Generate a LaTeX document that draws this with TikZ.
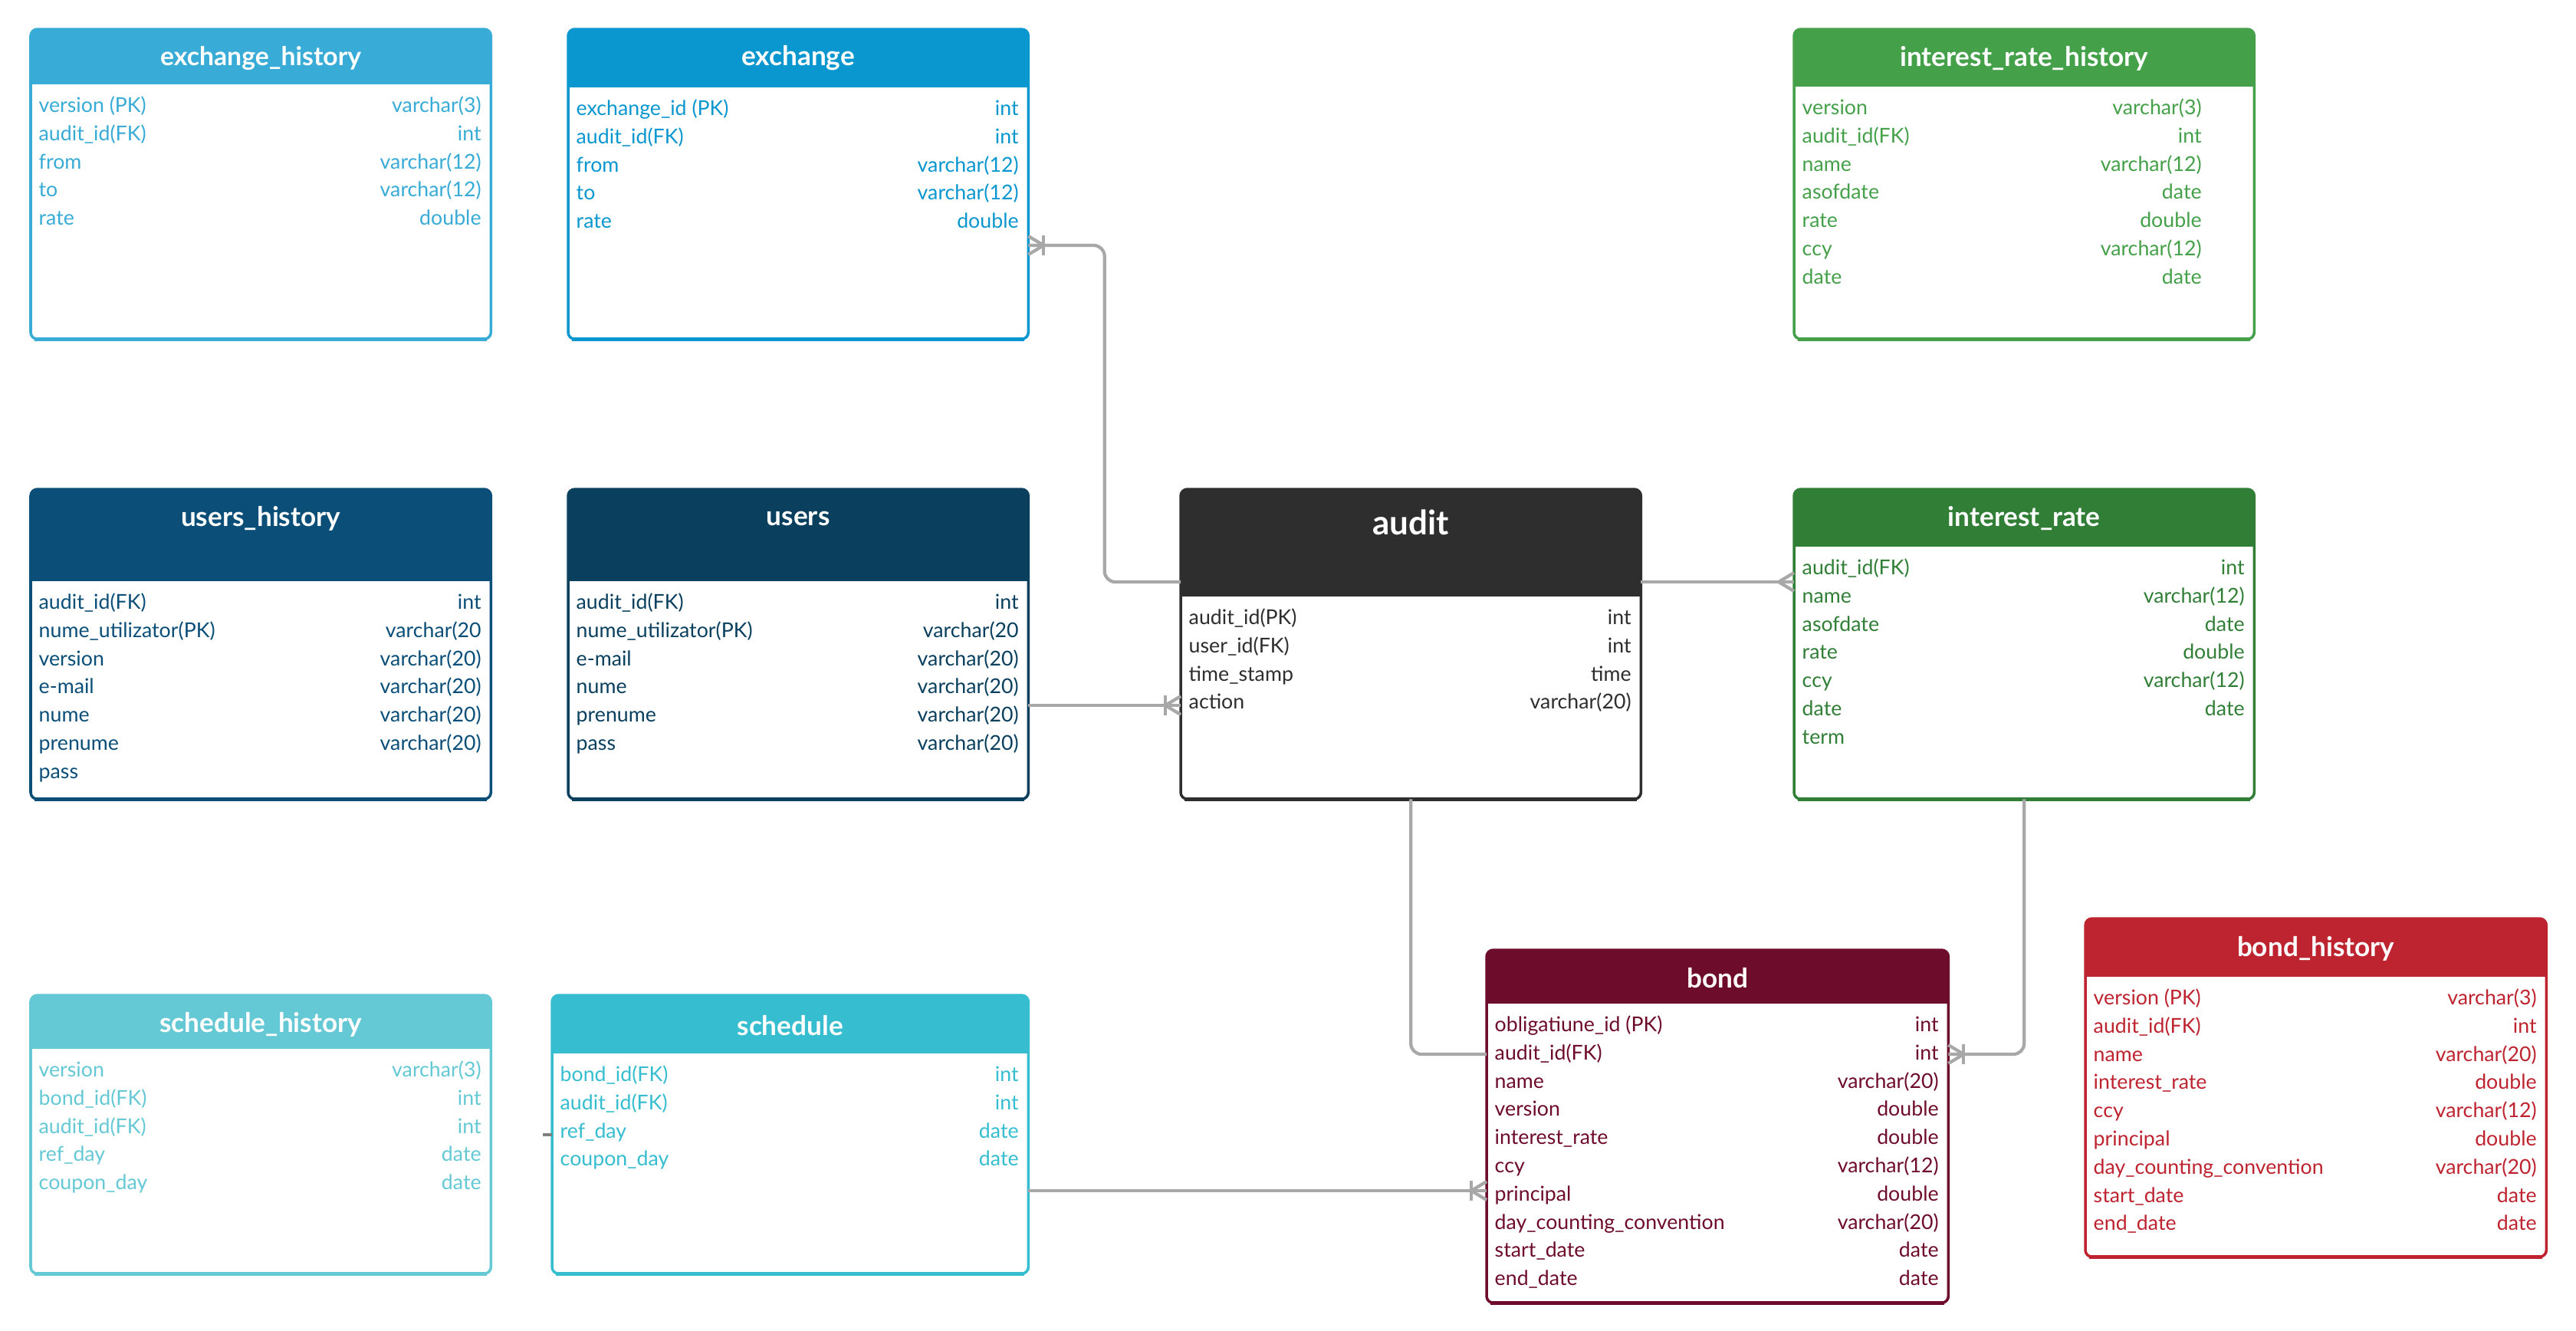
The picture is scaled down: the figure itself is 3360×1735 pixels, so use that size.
\documentclass[tikz,border=0pt]{standalone}
\usepackage{fontspec}
\setmainfont{Lato}
\usepackage{tikz}
\usetikzlibrary{calc}

\definecolor{exhistc}{HTML}{38ABD6}
\definecolor{exchc}{HTML}{0A97CF}
\definecolor{irhistc}{HTML}{45A04A}
\definecolor{ushistc}{HTML}{0B4F79}
\definecolor{usersc}{HTML}{0A405E}
\definecolor{auditc}{HTML}{2E2E2E}
\definecolor{iratec}{HTML}{317F37}
\definecolor{schhistc}{HTML}{64C9D5}
\definecolor{schedc}{HTML}{36BDCF}
\definecolor{bondc}{HTML}{6E0D2B}
\definecolor{bondhistc}{HTML}{BE2430}
\definecolor{relc}{HTML}{A8A8A8}

% one row per field: name left, type right
\newcommand{\tblrows}[5]{%
  \foreach \fn/\ty [count=\i from 0] in {#5}{
    \node[fld, text=#2, anchor=west] (#1-f\i) at ($(#1.north west)+(10,#3+36.8*\i)$) {\fn};
    \node[fld, text=#2, anchor=east] (#1-t\i) at ($(#1.north east)+(-#4,#3+36.8*\i)$) {\ty};
  }
  \draw[#2, line width=1.5pt] ($(#1.south west)+(5,0)$) -- ($(#1.south east)+(-5,0)$);}

\begin{document}
\begin{tikzpicture}[
  x=0.01cm, y=-0.01cm,
  tbl/.style 2 args={draw=#1, fill=#1, line width=1pt, rounded corners=2.5pt,
              inner sep=0pt, outer sep=0pt, anchor=north west,
              path picture={\fill[white, sharp corners]
                ($(path picture bounding box.north west)+(0,#2)$)
                rectangle (path picture bounding box.south east);}},
  ttl/.style={text=white, font=\bfseries\fontsize{10}{12}\selectfont},
  fld/.style={inner sep=0pt, text height=5.8pt, text depth=1.6pt,
              font=\fontsize{7.6}{9}\selectfont},
  rel/.style={draw=relc, line width=1.2pt},
  crow/.pic={\draw[rel, sharp corners] (0,-12) -- (20,0) -- (0,12);},
  bar/.pic={\draw[rel] (20,-13) -- (20,13);},
]
\useasboundingbox (0,0) rectangle (3360,1735);

% top row
\node[tbl={exhistc}{72}, minimum width=6cm, minimum height=4.04cm] (exhist) at (40,38) {};
\node[ttl, font=\bfseries\fontsize{9.6}{12}\selectfont] (exhist-t) at ($(exhist.north)+(0,38)$) {exchange\_history};
\tblrows{exhist}{exhistc}{101}{12}{version (PK)/varchar(3), audit\_id(FK)/int,
  from/varchar(12), to/varchar(12), rate/double}

\node[tbl={exchc}{76}, minimum width=6cm, minimum height=4.04cm] (exchange) at (741,38) {};
\node[ttl] (exchange-t) at ($(exchange.north)+(0,38)$) {exchange};
\tblrows{exchange}{exchc}{105}{12}{exchange\_id (PK)/int, audit\_id(FK)/int,
  from/varchar(12), to/varchar(12), rate/double}

\node[tbl={irhistc}{75}, minimum width=6cm, minimum height=4.04cm] (irhist) at (2340,38) {};
\node[ttl] (irhist-t) at ($(irhist.north)+(0,38)$) {interest\_rate\_history};
\tblrows{irhist}{irhistc}{104}{68}{version/varchar(3), audit\_id(FK)/int,
  name/varchar(12), asofdate/date, rate/double, ccy/varchar(12), date/date}

% middle row
\node[tbl={ushistc}{120}, minimum width=6cm, minimum height=4.04cm] (ushist) at (40,638) {};
\node[ttl] (ushist-t) at ($(ushist.north)+(0,38)$) {users\_history};
\tblrows{ushist}{ushistc}{149}{12}{audit\_id(FK)/int, nume\_utilizator(PK)/varchar(20,
  version/varchar(20), e-mail/varchar(20), nume/varchar(20),
  prenume/varchar(20), pass/{}}

\node[tbl={usersc}{120}, minimum width=6cm, minimum height=4.04cm] (users) at (741,638) {};
\node[ttl] (users-t) at ($(users.north)+(0,38)$) {users};
\tblrows{users}{usersc}{149}{12}{audit\_id(FK)/int, nume\_utilizator(PK)/varchar(20,
  e-mail/varchar(20), nume/varchar(20), prenume/varchar(20), pass/varchar(20)}

\node[tbl={auditc}{140}, minimum width=6cm, minimum height=4.04cm] (audit) at (1540,638) {};
\node[ttl, font=\bfseries\fontsize{12.5}{14}\selectfont] (audit-t) at ($(audit.north)+(0,43)$) {audit};
\tblrows{audit}{auditc}{169}{12}{audit\_id(PK)/int, user\_id(FK)/int,
  time\_stamp/time, action/varchar(20)}

\node[tbl={iratec}{75}, minimum width=6cm, minimum height=4.04cm] (irate) at (2340,638) {};
\node[ttl] (irate-t) at ($(irate.north)+(0,38)$) {interest\_rate};
\tblrows{irate}{iratec}{104}{12}{audit\_id(FK)/int, name/varchar(12), asofdate/date,
  rate/double, ccy/varchar(12), date/date, term/{}}

% bottom row
\node[tbl={schhistc}{70}, minimum width=6cm, minimum height=3.63cm] (schhist) at (40,1298) {};
\node[ttl] (schhist-t) at ($(schhist.north)+(0,38)$) {schedule\_history};
\tblrows{schhist}{schhistc}{99}{12}{version/varchar(3), bond\_id(FK)/int,
  audit\_id(FK)/int, ref\_day/date, coupon\_day/date}

\node[tbl={schedc}{76}, minimum width=6.21cm, minimum height=3.63cm] (schedule) at (720,1298) {};
\node[ttl] (schedule-t) at ($(schedule.north)+(0,40)$) {schedule};
\tblrows{schedule}{schedc}{105}{12}{bond\_id(FK)/int, audit\_id(FK)/int,
  ref\_day/date, coupon\_day/date}

\node[tbl={bondc}{70}, minimum width=6.02cm, minimum height=4.6cm] (bond) at (1939,1239) {};
\node[ttl] (bond-t) at ($(bond.north)+(0,37)$) {bond};
\tblrows{bond}{bondc}{99}{12}{obligatiune\_id (PK)/int, audit\_id(FK)/int,
  name/varchar(20), version/double, interest\_rate/double, ccy/varchar(12),
  principal/double, day\_counting\_convention/varchar(20),
  start\_date/date, end\_date/date}

\node[tbl={bondhistc}{76}, minimum width=6.01cm, minimum height=4.41cm] (bondhist) at (2720,1198) {};
\node[ttl] (bondhist-t) at ($(bondhist.north)+(0,39)$) {bond\_history};
\tblrows{bondhist}{bondhistc}{105}{12}{version (PK)/varchar(3), audit\_id(FK)/int,
  name/varchar(20), interest\_rate/double, ccy/varchar(12), principal/double,
  day\_counting\_convention/varchar(20), start\_date/date, end\_date/date}

% relations
\coordinate (exchange-au) at ($(exchange.north east)+(0,282)$);
\coordinate (audit-ex) at ($(audit.north west)+(0,121)$);
\coordinate (users-au) at ($(users.north east)+(0,282)$);
\coordinate (audit-us) at ($(audit.north west)+(0,282)$);
\coordinate (audit-ir) at ($(audit.north east)+(0,121)$);
\coordinate (irate-au) at ($(irate.north west)+(0,121)$);
\coordinate (bond-au) at ($(bond.north west)+(0,136)$);
\coordinate (bond-ir) at ($(bond.north east)+(0,136)$);
\coordinate (schedule-bd) at ($(schedule.north east)+(0,255)$);
\coordinate (bond-sc) at ($(bond.north west)+(0,314)$);
\coordinate (schedule-x) at ($(schedule.north west)+(0,182)$);

\draw[rel, rounded corners=4pt] (exchange-au) -| ($(exchange-au)!.5!(audit-ex)$) |- (audit-ex);
\pic at (exchange-au) {crow};
\pic at (exchange-au) {bar};

\draw[rel] (users-au) -- (audit-us);
\pic[rotate=180] at (audit-us) {crow};
\pic[rotate=180] at (audit-us) {bar};

\draw[rel] (audit-ir) -- (irate-au);
\pic[rotate=180] at (irate-au) {crow};

\draw[rel, rounded corners=4pt] (audit.south) |- (bond-au);

\draw[rel, rounded corners=4pt] (irate.south) |- (bond-ir);
\pic at (bond-ir) {crow};
\pic at (bond-ir) {bar};

\draw[rel] (schedule-bd) -- (bond-sc);
\pic[rotate=180] at (bond-sc) {crow};
\pic[rotate=180] at (bond-sc) {bar};

\draw[draw=gray, line width=1.3pt] (schedule-x) -- ++(-12,0);
\end{tikzpicture}
\end{document}
